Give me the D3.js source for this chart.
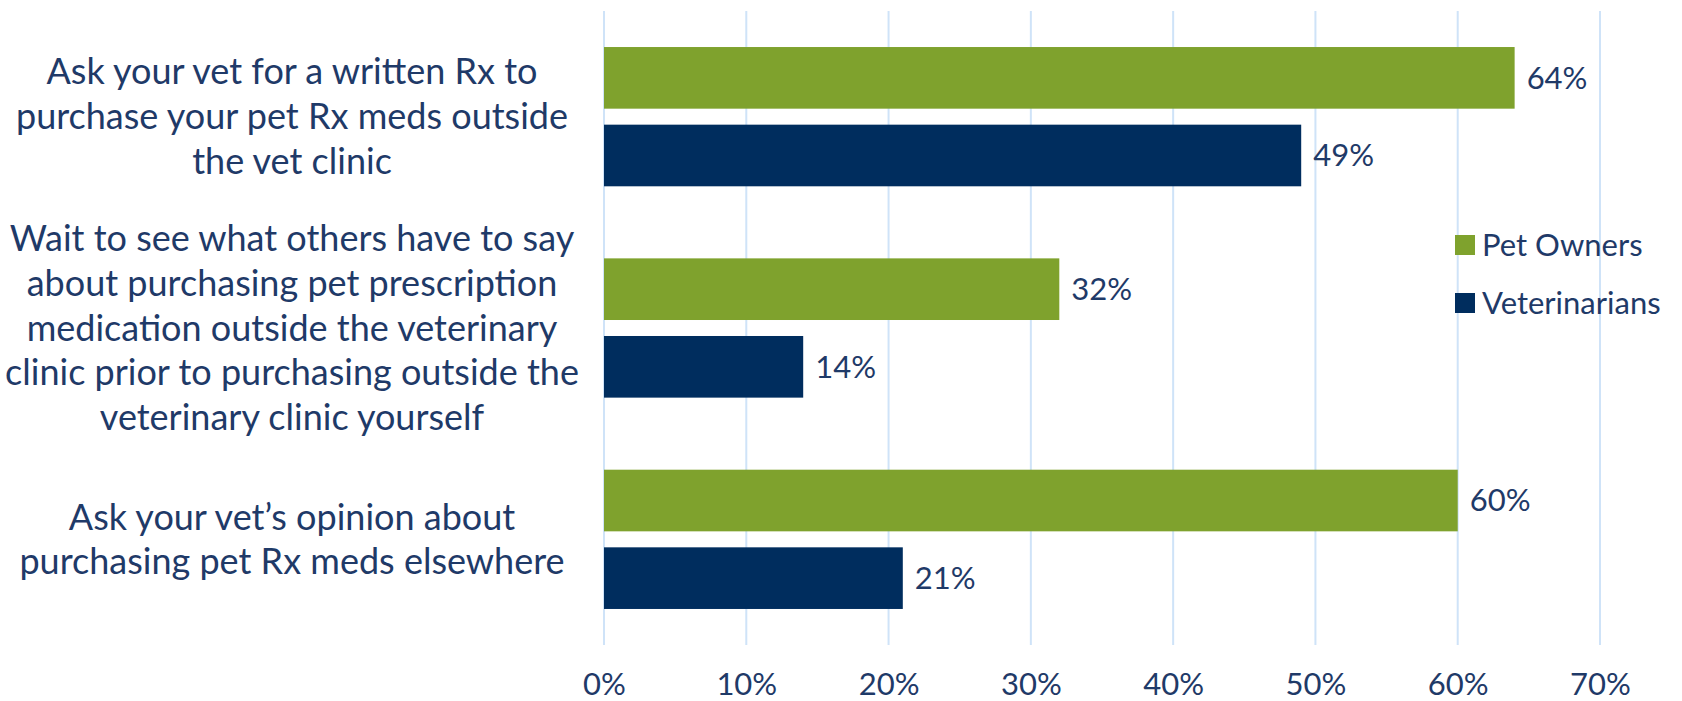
<!DOCTYPE html>
<html>
<head>
<meta charset="utf-8">
<script src="https://cdn.jsdelivr.net/npm/d3@7"></script>
<style>
  html, body { margin: 0; padding: 0; background: #ffffff; }
  svg { display: block; }
  text { font-family: Lato, "Noto Sans", sans-serif; fill: #1f3a68; }
</style>
</head>
<body>
<svg id="chart" width="1682" height="701"></svg>
<script>
// Survey questions (each entry is one wrapped label line)
const categories = [
  ["Ask your vet for a written Rx to", "purchase your pet Rx meds outside", "the vet clinic"],
  ["Wait to see what others have to say", "about purchasing pet prescription", "medication outside the veterinary", "clinic prior to purchasing outside the", "veterinary clinic yourself"],
  ["Ask your vet\u2019s opinion about", "purchasing pet Rx meds elsewhere"]
];
const seriesNames = ["Pet Owners", "Veterinarians"];
const petOwners = [0.64, 0.32, 0.60];
const veterinarians = [0.49, 0.14, 0.21];
const tickValues = [0, 0.1, 0.2, 0.3, 0.4, 0.5, 0.6, 0.7];
const colors = ["#7fa22d", "#002d5e"];

const svg = d3.select("#chart");
const labelFont = 36;   // category labels
const smallFont = 31;   // ticks, values, legend
const lineGap = 44.8;

const plot = { left: 604, right: 1600, top: 11, bottom: 645 };

const x = d3.scaleLinear().domain([0, 0.7]).range([plot.left, plot.right]);
const y = d3.scaleBand()
  .domain(d3.range(categories.length))
  .range([plot.top, plot.bottom])
  .paddingInner(0.341)
  .paddingOuter(0.1705);
const ySub = d3.scaleBand()
  .domain(seriesNames)
  .range([0, y.bandwidth()])
  .paddingInner(0.206);

// vertical gridlines
svg.append("g")
  .selectAll("line")
  .data(tickValues)
  .join("line")
  .attr("x1", d => x(d)).attr("x2", d => x(d))
  .attr("y1", plot.top).attr("y2", plot.bottom)
  .attr("stroke", "#cfe3f8")
  .attr("stroke-width", 2);

// x axis tick labels
const xAxis = d3.axisBottom(x)
  .tickValues(tickValues)
  .tickFormat(d3.format(".0%"))
  .tickSize(0)
  .tickPadding(0);
const axisG = svg.append("g")
  .attr("transform", `translate(0, 684)`)
  .call(xAxis);
axisG.select(".domain").remove();
axisG.selectAll("text")
  .attr("dy", "0.35em")
  .attr("y", 0)
  .style("font-size", smallFont + "px")
  .style("font-family", "Lato, 'Noto Sans', sans-serif")
  .attr("fill", "#1f3a68");

// bars
const rows = categories.map((c, i) => ({
  i,
  values: [
    { name: seriesNames[0], value: petOwners[i], color: colors[0] },
    { name: seriesNames[1], value: veterinarians[i], color: colors[1] }
  ]
}));

const groups = svg.append("g")
  .selectAll("g")
  .data(rows)
  .join("g")
  .attr("transform", d => `translate(0, ${y(d.i)})`);

groups.selectAll("rect")
  .data(d => d.values)
  .join("rect")
  .attr("x", x(0))
  .attr("y", d => ySub(d.name))
  .attr("width", d => x(d.value) - x(0))
  .attr("height", ySub.bandwidth())
  .attr("fill", d => d.color);

groups.selectAll("text.value")
  .data(d => d.values)
  .join("text")
  .attr("class", "value")
  .attr("x", d => x(d.value) + 12)
  .attr("y", d => ySub(d.name) + ySub.bandwidth() / 2)
  .attr("dy", "0.35em")
  .style("font-size", smallFont + "px")
  .text(d => d3.format(".0%")(d.value));

// category labels, centred on each band
const labelX = 292;
svg.append("g")
  .selectAll("text")
  .data(categories)
  .join("text")
  .attr("text-anchor", "middle")
  .style("font-size", labelFont + "px")
  .each(function (lines, i) {
    const cy = y(i) + y.bandwidth() / 2;
    d3.select(this).selectAll("tspan")
      .data(lines)
      .join("tspan")
      .attr("x", labelX)
      .attr("y", (l, k) => cy + (k - (lines.length - 1) / 2) * lineGap)
      .attr("dy", "0.35em")
      .text(l => l);
  });

// legend
const legend = svg.append("g").attr("transform", "translate(1455, 235)");
const legendItems = legend.selectAll("g")
  .data(seriesNames)
  .join("g")
  .attr("transform", (d, i) => `translate(0, ${i * 58})`);
legendItems.append("rect")
  .attr("width", 20).attr("height", 20)
  .attr("fill", (d, i) => colors[i]);
legendItems.append("text")
  .attr("x", 27)
  .attr("y", 10)
  .attr("dy", "0.35em")
  .style("font-size", smallFont + "px")
  .text(d => d);
</script>
</body>
</html>
